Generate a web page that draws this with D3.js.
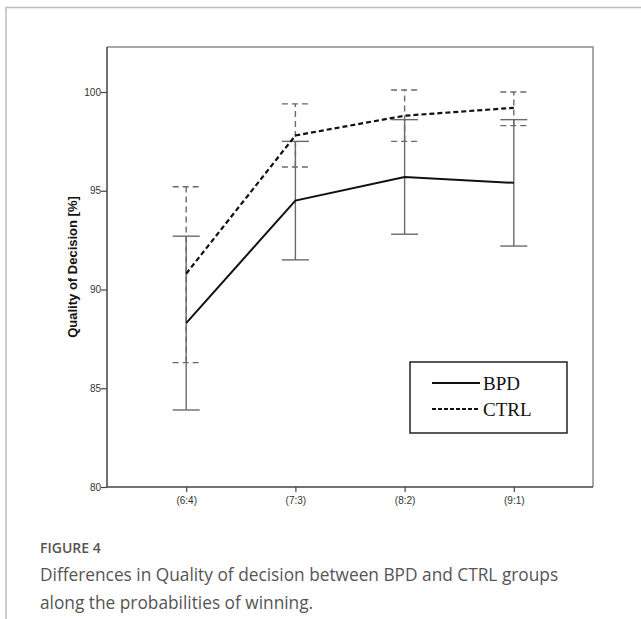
<!DOCTYPE html>
<html>
<head>
<meta charset="utf-8">
<script src="https://cdn.jsdelivr.net/npm/d3@7"></script>
<style>
  body { margin: 0; background: #fff; }
  svg { display: block; }
</style>
</head>
<body>
<svg id="chart" width="641" height="619"></svg>
<script>
// data
const categories = ["(6:4)", "(7:3)", "(8:2)", "(9:1)"];
const bpdMean = [88.3, 94.5, 95.7, 95.4];
const bpdLow = [83.9, 91.5, 92.8, 92.2];
const bpdHigh = [92.7, 97.5, 98.6, 98.6];
const ctrlMean = [90.8, 97.8, 98.8, 99.2];
const ctrlLow = [86.3, 96.2, 97.5, 98.3];
const ctrlHigh = [95.2, 99.4, 100.1, 100.0];
const yTicks = [80, 85, 90, 95, 100];

const svg = d3.select("#chart");

const box = { left: 107, top: 47, right: 593, bottom: 487 };

const x = d3.scalePoint()
  .domain(categories)
  .range([box.left, box.right])
  .padding(0.725);

const y = d3.scaleLinear()
  .domain([80, 100])
  .range([box.bottom, 92]);

// outer frame of the figure
svg.append("path")
  .attr("d", "M6,619V7.5H641")
  .attr("fill", "none")
  .attr("stroke", "#bdbdbd")
  .attr("stroke-width", 1.5);

// top and right border of plot area
svg.append("path")
  .attr("d", `M${box.left},${box.top}H${box.right}V${box.bottom}`)
  .attr("fill", "none")
  .attr("stroke", "#8a8a8a")
  .attr("stroke-width", 1.5);

// error bars
function errorBars(low, high, dashed) {
  const g = svg.append("g")
    .attr("stroke", "#6a6a6a")
    .attr("stroke-width", 1.4)
    .attr("fill", "none")
    .attr("stroke-dasharray", dashed ? "6,4" : null);
  categories.forEach((c, i) => {
    const cx = x(c);
    g.append("line").attr("x1", cx).attr("x2", cx).attr("y1", y(low[i])).attr("y2", y(high[i]));
    g.append("line").attr("x1", cx - 13.5).attr("x2", cx + 13.5).attr("y1", y(low[i])).attr("y2", y(low[i]));
    g.append("line").attr("x1", cx - 13.5).attr("x2", cx + 13.5).attr("y1", y(high[i])).attr("y2", y(high[i]));
  });
}
errorBars(ctrlLow, ctrlHigh, true);
errorBars(bpdLow, bpdHigh, false);

// mean lines
const line = d3.line()
  .x((d, i) => x(categories[i]))
  .y(d => y(d));

svg.append("path")
  .datum(bpdMean)
  .attr("d", line)
  .attr("fill", "none")
  .attr("stroke", "#111")
  .attr("stroke-width", 2);

svg.append("path")
  .datum(ctrlMean)
  .attr("d", line)
  .attr("fill", "none")
  .attr("stroke", "#111")
  .attr("stroke-width", 2.2)
  .attr("stroke-dasharray", "5,3");

// axes
const yAxis = svg.append("g")
  .attr("transform", `translate(${box.left},0)`)
  .call(d3.axisLeft(y).tickValues(yTicks).tickSize(6).tickSizeOuter(0));

const xAxis = svg.append("g")
  .attr("transform", `translate(0,${box.bottom})`)
  .call(d3.axisBottom(x).tickSize(5).tickSizeOuter(0));

[yAxis, xAxis].forEach(g => {
  g.select(".domain").remove();
  g.selectAll("line").attr("stroke", "#444").attr("stroke-width", 1.2);
  g.selectAll("text")
    .attr("fill", "#333")
    .style("font-family", "'Liberation Sans', Arial, sans-serif")
    .style("font-size", "10px");
});
yAxis.selectAll("text").attr("x", -6);
xAxis.selectAll("text").attr("y", 10);

svg.append("path")
  .attr("d", `M${box.left},${box.top}V${box.bottom}H${box.right}`)
  .attr("fill", "none")
  .attr("stroke", "#444")
  .attr("stroke-width", 1.5);

// y axis title
svg.append("text")
  .attr("transform", `translate(77,${(box.top + box.bottom) / 2})rotate(-90)`)
  .attr("text-anchor", "middle")
  .style("font-family", "'Liberation Sans', Arial, sans-serif")
  .style("font-size", "13px")
  .style("font-weight", "bold")
  .attr("fill", "#111")
  .text("Quality of Decision [%]");

// legend
const legend = svg.append("g").attr("transform", "translate(410,362)");
legend.append("rect")
  .attr("width", 157).attr("height", 71)
  .attr("fill", "#fff")
  .attr("stroke", "#222")
  .attr("stroke-width", 1.5);

const legendItems = [
  { name: "BPD", dash: null, yy: 21 },
  { name: "CTRL", dash: "4,2", yy: 47 }
];
legendItems.forEach(d => {
  legend.append("line")
    .attr("x1", 22).attr("x2", 70)
    .attr("y1", d.yy).attr("y2", d.yy)
    .attr("stroke", "#111")
    .attr("stroke-width", 2)
    .attr("stroke-dasharray", d.dash);
  legend.append("text")
    .attr("x", 73).attr("y", d.yy + 6.5)
    .style("font-family", "'Liberation Serif', 'Times New Roman', serif")
    .style("font-size", "19px")
    .attr("fill", "#111")
    .text(d.name);
});

// caption
svg.append("text")
  .attr("x", 40).attr("y", 553)
  .style("font-family", "'Open Sans', sans-serif")
  .style("font-size", "14px")
  .style("font-weight", 600)
  .attr("fill", "#555")
  .text("FIGURE 4");

const captionLines = [
  "Differences in Quality of decision between BPD and CTRL groups",
  "along the probabilities of winning."
];
svg.append("g").selectAll("text")
  .data(captionLines)
  .join("text")
  .attr("x", 40)
  .attr("y", (d, i) => 581 + i * 28)
  .style("font-family", "'Open Sans', sans-serif")
  .style("font-size", "17.3px")
  .attr("fill", "#555")
  .text(d => d);
</script>
</body>
</html>
